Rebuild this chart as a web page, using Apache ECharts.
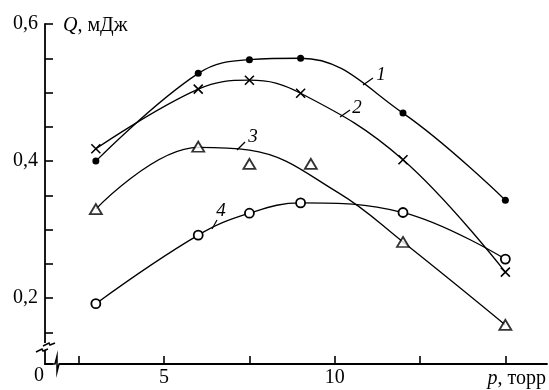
<!DOCTYPE html>
<html>
<head>
<meta charset="utf-8">
<script src="https://cdn.jsdelivr.net/npm/echarts@6/dist/echarts.min.js"></script>
<style>
  html, body { margin: 0; padding: 0; background: #fff; }
  #chart { width: 549px; height: 390px; }
</style>
</head>
<body>
<div id="chart"></div>
<script>
// Pressure values p (torr) at which Q was measured
const pressure = [3, 6, 7.5, 9, 12, 15];
// Curve 1 (filled dots), Q in mJ
const q1 = [0.400, 0.528, 0.548, 0.550, 0.470, 0.343];
// Curve 2 (crosses)
const q2 = [0.418, 0.505, 0.518, 0.499, 0.402, 0.238];
// Curve 3 (triangles) – measured points
const p3 = [3, 6, 7.5, 9.3, 12, 15];
const q3 = [0.330, 0.421, 0.396, 0.396, 0.282, 0.161];
// Curve 3 – drawn trend line through the triangles
const fit3P = [3, 6, 7.5, 10.1, 12, 15];
const fit3Q = [0.330, 0.420, 0.416, 0.354, 0.282, 0.161];
// Curve 4 (open circles)
const q4 = [0.192, 0.292, 0.324, 0.339, 0.325, 0.257];

// Axis ticks and labels
const xTicks = [2.5, 5, 7.5, 10, 12.5, 15];
const xLabels = [5, 10];
const yTicks = [0.15, 0.2, 0.25, 0.3, 0.35, 0.4, 0.45, 0.5, 0.55, 0.6];
const yLabels = [0.2, 0.4, 0.6];

const SERIF = "'Liberation Serif', 'Times New Roman', serif";
const INK = '#000';
const FS = 20;

const pairs = (xs, ys) => xs.map((x, i) => [x, ys[i]]);

const chart = echarts.init(document.getElementById('chart'), null, { renderer: 'canvas' });

const lineBase = {
  type: 'line',
  smooth: 0.4,
  lineStyle: { color: INK, width: 1.3 },
  emphasis: { disabled: true },
  animation: false
};

chart.setOption({
  backgroundColor: '#fff',
  animation: false,
  grid: { left: 45, right: 0, top: 24, bottom: 26 },
  xAxis: {
    type: 'value',
    min: 1.51,
    max: 16.22,
    axisLine: { show: true, onZero: false, lineStyle: { color: INK, width: 1.8 } },
    axisTick: { show: true, inside: true, length: 8, customValues: xTicks, lineStyle: { color: INK, width: 1.6 } },
    axisLabel: { customValues: xLabels, formatter: v => String(v), margin: 4, color: INK, fontFamily: SERIF, fontSize: FS },
    splitLine: { show: false },
    name: '{p|p}, торр',
    nameLocation: 'end',
    nameGap: 0,
    nameTextStyle: {
      align: 'right', verticalAlign: 'top', padding: [5, 1, 0, 0],
      color: INK, fontFamily: SERIF, fontSize: FS,
      rich: { p: { fontStyle: 'italic', fontFamily: SERIF, fontSize: FS, color: INK } }
    }
  },
  yAxis: {
    type: 'value',
    min: 0.104,
    max: 0.6,
    axisLine: { show: true, onZero: false, lineStyle: { color: INK, width: 1.8 } },
    axisTick: { show: true, inside: true, length: 8, customValues: yTicks, lineStyle: { color: INK, width: 1.6 } },
    axisLabel: {
      customValues: yLabels,
      formatter: v => v.toFixed(1).replace('.', ','),
      margin: 7, padding: [9, 0, 0, 0],
      color: INK, fontFamily: SERIF, fontSize: FS
    },
    splitLine: { show: false },
    name: '{q|Q}, мДж',
    nameLocation: 'end',
    nameGap: 0,
    nameTextStyle: {
      align: 'left', verticalAlign: 'middle', padding: [4, 0, 0, 18],
      color: INK, fontFamily: SERIF, fontSize: FS,
      rich: { q: { fontStyle: 'italic', fontFamily: SERIF, fontSize: FS, color: INK } }
    }
  },
  series: [
    Object.assign({}, lineBase, {
      name: '1',
      data: pairs(pressure, q1),
      symbol: 'circle',
      symbolSize: 7,
      itemStyle: { color: INK }
    }),
    Object.assign({}, lineBase, {
      name: '2',
      data: pairs(pressure, q2),
      symbol: 'path://M0,0L10,10M10,0L0,10',
      symbolSize: 9,
      itemStyle: { color: 'none', borderColor: INK, borderWidth: 1.6 }
    }),
    Object.assign({}, lineBase, {
      name: '3',
      data: pairs(fit3P, fit3Q),
      showSymbol: false,
      symbol: 'none'
    }),
    {
      type: 'scatter',
      name: '3',
      data: pairs(p3, q3),
      symbol: 'triangle',
      symbolSize: [12, 10],
      itemStyle: { color: '#fff', borderColor: INK, borderWidth: 1.8 },
      emphasis: { disabled: true },
      z: 3
    },
    Object.assign({}, lineBase, {
      name: '4',
      data: pairs(pressure, q4),
      symbol: 'circle',
      symbolSize: 9,
      itemStyle: { color: '#fff', borderColor: INK, borderWidth: 1.8 }
    })
  ],
  graphic: [
    // origin label
    { type: 'text', left: 34, top: 366, style: { text: '0', fontFamily: SERIF, fontSize: FS, fill: INK } },
    // axis breaks: blank out the axis line, then draw the break strokes
    { type: 'rect', shape: { x: 38, y: 343, width: 16, height: 7 }, style: { fill: '#fff' }, z: 100 },
    { type: 'polyline', shape: { points: [[43, 346], [49, 343], [50, 345], [55, 343]] }, style: { stroke: INK, lineWidth: 1.5, fill: null }, z: 101 },
    { type: 'polyline', shape: { points: [[36, 352], [42, 349], [43, 351], [48, 349]] }, style: { stroke: INK, lineWidth: 1.5, fill: null }, z: 101 },
    { type: 'rect', shape: { x: 53, y: 360, width: 6, height: 8 }, style: { fill: '#fff' }, z: 100 },
    { type: 'polyline', shape: { points: [[53, 364], [55, 364], [57, 356], [57, 372], [59, 364], [61, 364]] }, style: { stroke: INK, lineWidth: 1.5, fill: null }, z: 101 },
    // curve labels with leader strokes
    { type: 'line', shape: { x1: 363, y1: 85, x2: 373, y2: 78 }, style: { stroke: INK, lineWidth: 1.2 } },
    { type: 'text', x: 381, y: 75, style: { text: '1', fontFamily: SERIF, fontStyle: 'italic', fontSize: 19, fill: INK, align: 'center', verticalAlign: 'middle' } },
    { type: 'line', shape: { x1: 340, y1: 117, x2: 350, y2: 110 }, style: { stroke: INK, lineWidth: 1.2 } },
    { type: 'text', x: 357, y: 108, style: { text: '2', fontFamily: SERIF, fontStyle: 'italic', fontSize: 19, fill: INK, align: 'center', verticalAlign: 'middle' } },
    { type: 'line', shape: { x1: 237, y1: 150, x2: 245, y2: 142 }, style: { stroke: INK, lineWidth: 1.2 } },
    { type: 'text', x: 253, y: 137, style: { text: '3', fontFamily: SERIF, fontStyle: 'italic', fontSize: 19, fill: INK, align: 'center', verticalAlign: 'middle' } },
    { type: 'line', shape: { x1: 212, y1: 229, x2: 217, y2: 220 }, style: { stroke: INK, lineWidth: 1.2 } },
    { type: 'text', x: 221, y: 211, style: { text: '4', fontFamily: SERIF, fontStyle: 'italic', fontSize: 19, fill: INK, align: 'center', verticalAlign: 'middle' } }
  ]
});
</script>
</body>
</html>
